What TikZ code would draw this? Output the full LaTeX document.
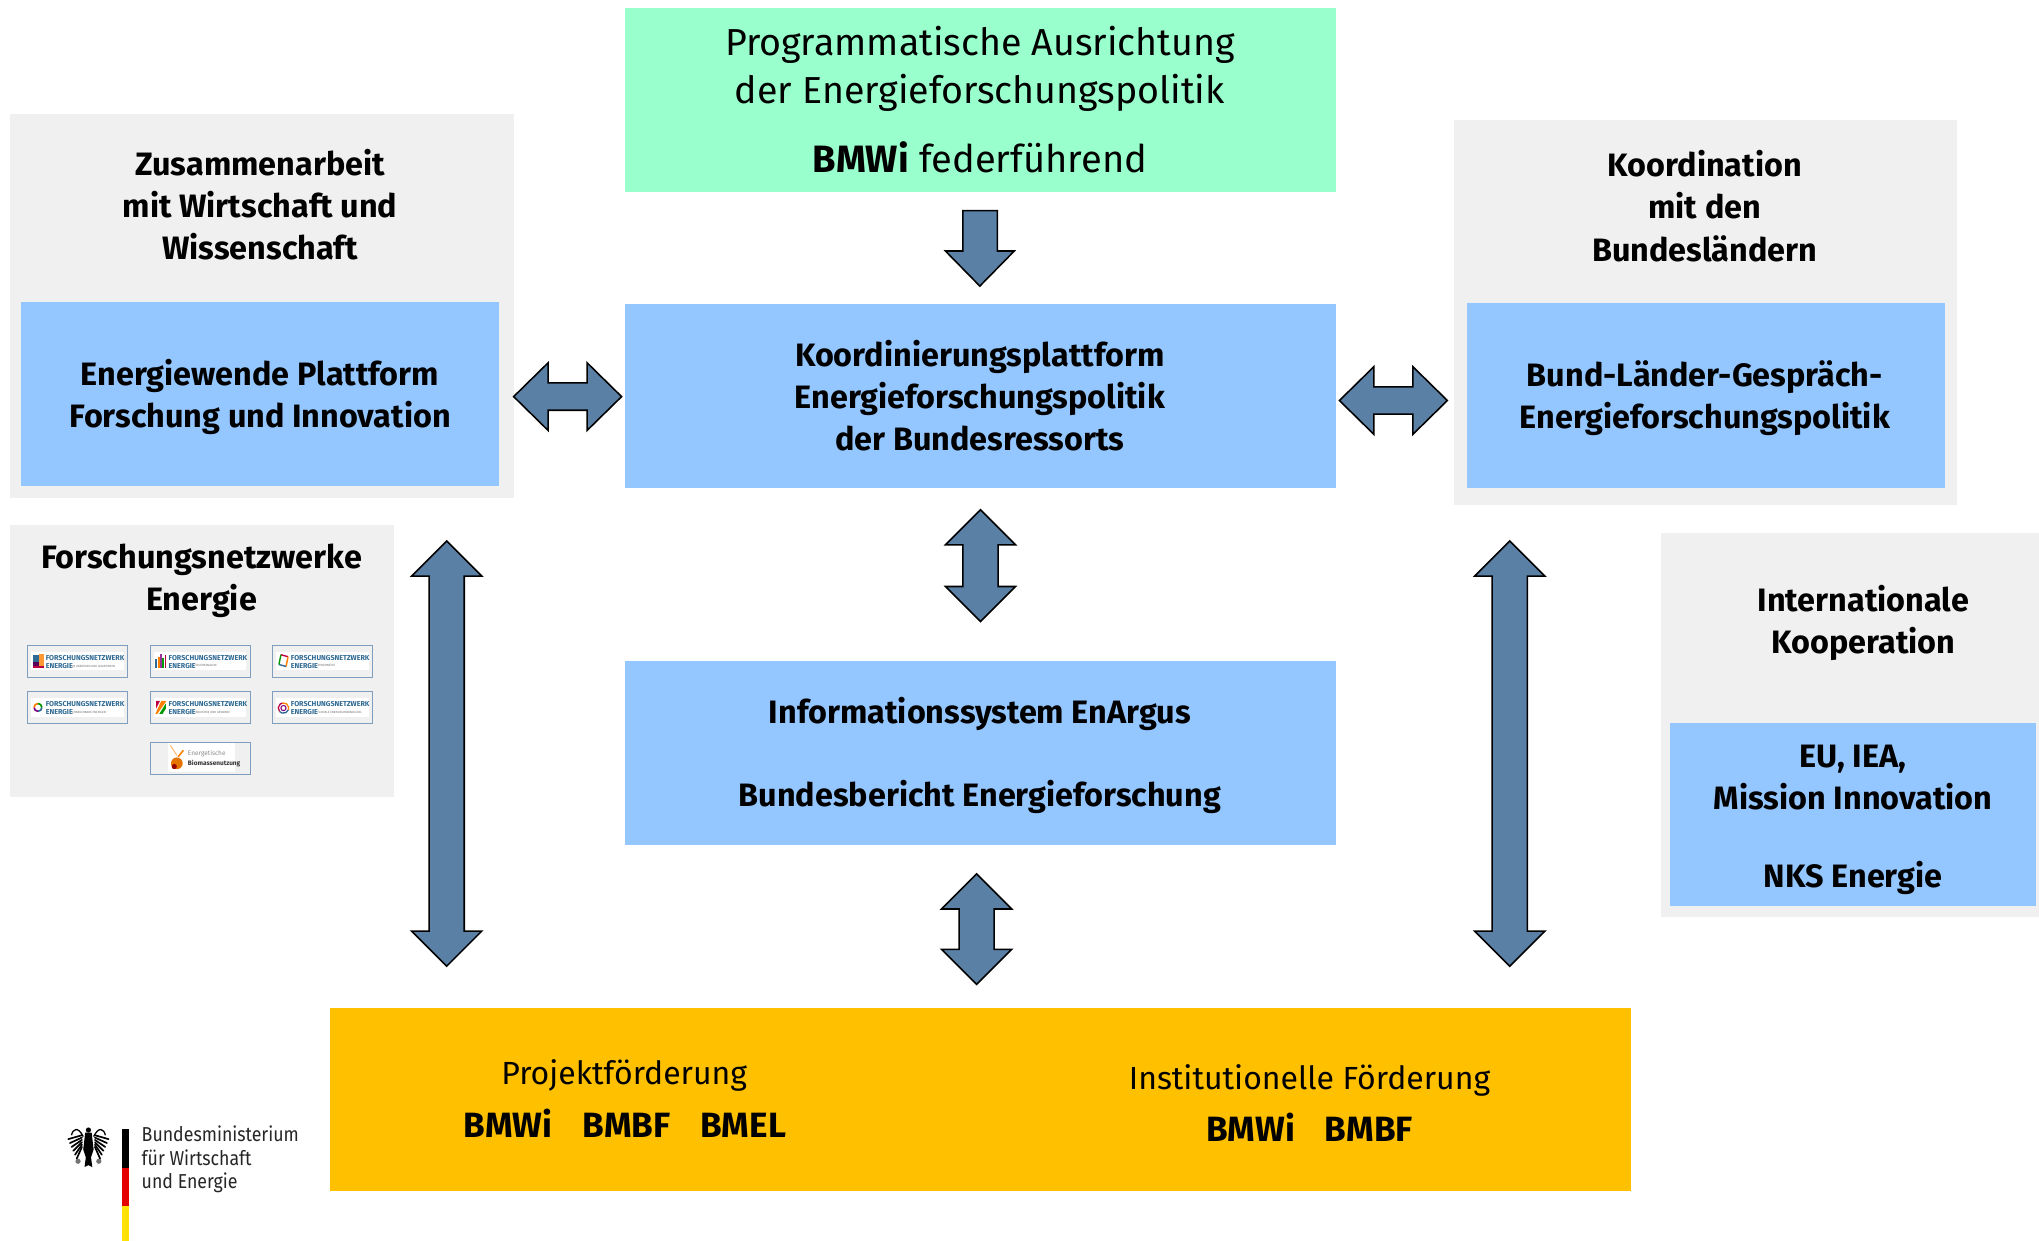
\documentclass[tikz,border=0pt]{standalone}
\usepackage{fontspec}
\setmainfont{Fira Sans}
\newfontfamily\logofont[FakeStretch=0.88]{Fira Sans}
\definecolor{gbox}{HTML}{F0F0F0}
\definecolor{bbox}{HTML}{94C7FF}
\definecolor{mint}{HTML}{99FFCC}
\definecolor{amber}{HTML}{FFC000}
\definecolor{steel}{HTML}{5A80A6}
\definecolor{fnblue}{HTML}{2F6A94}
\definecolor{tileedge}{HTML}{7F9DBC}
\newcommand{\UDarrow}[4]{% x, top, bottom, half-head
  \draw[blockarrow] (#1,#2) -- (#1+#4,#2+27) -- (#1+13.5,#2+27) -- (#1+13.5,#3-27) -- (#1+#4,#3-27) -- (#1,#3) -- (#1-#4,#3-27) -- (#1-13.5,#3-27) -- (#1-13.5,#2+27) -- (#1-#4,#2+27) -- cycle;}
\newcommand{\LRarrow}[3]{% y, left, right
  \draw[blockarrow] (#2,#1) -- (#2+26.5,#1-26) -- (#2+26.5,#1-10.5) -- (#3-26.5,#1-10.5) -- (#3-26.5,#1-26) -- (#3,#1) -- (#3-26.5,#1+26) -- (#3-26.5,#1+10.5) -- (#2+26.5,#1+10.5) -- (#2+26.5,#1+26) -- cycle;}
\newcommand{\FNtile}[4]{% name, x, y, subtitle
  \node[tile] (#1) at (#2,#3) {};
  \fill[white] (#2-35.5,#3-7) rectangle (#2+35.5,#3+7);
  \node[fntext] (#1a) at (#2-24.5,#3-2.8) {FORSCHUNGSNETZWERK};
  \node[fntext] (#1b) at (#2-24.5,#3+3.3) {ENERGIE};
  \node[fnsub] (#1c) at (#2-4,#3+3.6) {#4};}
\tikzset{
  box/.style={inner sep=0pt,outer sep=0pt,align=center,text=black,font=\fontsize{24.9}{32.4}\selectfont\bfseries},
  graybox/.style={fill=gbox,draw=none},
  bluebox/.style={box,fill=bbox},
  title/.style={box,fill=none},
  plain/.style={inner sep=0pt,outer sep=0pt,align=center,text=black},
  blockarrow/.style={fill=steel,draw=black,line width=1.2pt,line join=miter},
  tile/.style={draw=tileedge,line width=.8pt,fill=gbox,minimum width=77pt,minimum height=24.5pt,inner sep=0pt},
  fntext/.style={anchor=west,inner sep=0pt,align=left,text=fnblue,font=\fontsize{5.5}{6}\selectfont\bfseries},
  fnsub/.style={anchor=west,inner sep=0pt,text=black!55,font=\fontsize{2.3}{3}\selectfont},
}
\begin{document}
\begin{tikzpicture}[x=1pt,y=-1pt]
\useasboundingbox (0,0) rectangle (1568,954.3);
\fill[white] (0,0) rectangle (1568,954.3);
% gray panels
\fill[graybox] (8,88) rectangle (395,383);
\fill[graybox] (1118,92) rectangle (1505,388);
\fill[graybox] (8,404) rectangle (303,613);
\fill[graybox] (1277,410) rectangle (1568,705);
% top
\fill[mint] (481,6) rectangle (1027,148);
\node[plain,font=\fontsize{28.9}{37.5}\selectfont] (prog) at (753.5,53) {Programmatische Ausrichtung\\der Energieforschungspolitik};
\node[plain,font=\fontsize{29.3}{38}\selectfont] (bmwi) at (753.5,121) {\textbf{BMWi} federführend};
% blue boxes
\fill[bbox] (481,234) rectangle (1027,375);
\node[box] (koord) at (753.5,304) {Koordinierungsplattform\\Energieforschungspolitik\\der Bundesressorts};
\fill[bbox] (481,508) rectangle (1027,650);
\node[box] (info) at (753.5,549) {Informationssystem EnArgus};
\node[box] (bericht) at (753.5,613) {Bundesbericht Energieforschung};
\fill[bbox] (16,232) rectangle (384,374);
\node[box] (plattform) at (200,305) {Energiewende Plattform\\Forschung und Innovation};
\fill[bbox] (1128,233) rectangle (1496,375);
\node[box] (bund) at (1311,306.5) {Bund-Länder-Gespräch-\\Energieforschungspolitik};
\fill[bbox] (1284,556) rectangle (1566,697);
\node[box] (eu) at (1425,598) {EU, IEA,\\Mission Innovation};
\node[box] (nks) at (1425,675) {NKS Energie};
% titles
\node[title] (zus) at (200,157.5) {Zusammenarbeit\\mit Wirtschaft und\\Wissenschaft};
\node[title] (koordt) at (1311,158.5) {Koordination\\mit den\\Bundesländern};
\node[title] (fnt) at (155,446.5) {Forschungsnetzwerke\\Energie};
\node[title] (intl) at (1433,479) {Internationale\\Kooperation};
% orange
\fill[amber] (254,775) rectangle (1254,916);
\node[plain,font=\fontsize{24.6}{32}\selectfont] (pf) at (480,827) {Projektförderung};
\node[box,font=\fontsize{27}{32}\selectfont\bfseries] (pfb) at (480.5,864) {BMWi\hspace{23pt}BMBF\hspace{23pt}BMEL};
\node[plain,font=\fontsize{24.6}{32}\selectfont] (inf) at (1007,830.5) {Institutionelle Förderung};
\node[box,font=\fontsize{27}{32}\selectfont\bfseries] (infb) at (1007,867) {BMWi\hspace{23pt}BMBF};
% arrows
\draw[blockarrow] (740.5,162) -- (767,162) -- (767,193) -- (780,193) -- (753.5,220) -- (727,193) -- (740.5,193) -- cycle;
\LRarrow{305}{395}{478}
\LRarrow{308}{1030}{1113}
\UDarrow{754}{392}{478}{27}
\UDarrow{751}{672}{757}{27}
\UDarrow{343.5}{416}{743}{27}
\UDarrow{1161}{416}{743}{27}
% tiles
\FNtile{t1}{59.5}{508.5}{IN GEBÄUDEN UND QUARTIEREN}
\fill[fnblue] (25.5,504) rectangle (30,509);
\fill[orange!80] (30,503) rectangle (33.5,512);
\fill[violet!70!black] (25.5,509) rectangle (30,514);
\fill[purple] (25.5,512) rectangle (33.5,514);
\FNtile{t2}{154}{508.5}{SYSTEMANALYSE}
\fill[fnblue] (119.5,507) rectangle (121,514);
\fill[orange] (121.2,505) rectangle (122.7,514);
\fill[violet!80] (123,503) rectangle (124.5,514);
\fill[green!60!black] (124.8,506) rectangle (126.3,514);
\fill[purple] (126.6,504) rectangle (128,514);
\FNtile{t3}{248}{508.5}{STROMNETZE}
\draw[purple,line width=1.1pt] (216,503.5) -- (221.5,505);
\draw[orange,line width=1.1pt] (221.5,505) -- (220,512.5);
\draw[fnblue,line width=1.1pt] (220,512.5) -- (214.5,511);
\draw[green!60!black,line width=1.1pt] (214.5,511) -- (216,503.5);
\FNtile{t4}{59.5}{544}{ERNEUERBARE ENERGIEN}
\draw[fnblue,line width=1.3pt] (29.2,544) ++(0:3) arc (0:90:3);
\draw[violet,line width=1.3pt] (29.2,544) ++(90:3) arc (90:180:3);
\draw[orange,line width=1.3pt] (29.2,544) ++(180:3) arc (180:270:3);
\draw[green!60!black,line width=1.3pt] (29.2,544) ++(270:3) arc (270:360:3);
\FNtile{t5}{154}{544}{INDUSTRIE UND GEWERBE}
\fill[purple] (120,539) -- (123,539) -- (120,545) -- cycle;
\fill[orange] (124,539) -- (128,539) -- (121,549) -- (119.5,549) -- cycle;
\fill[green!60!black] (127.5,541) -- (127.5,545) -- (125,549) -- (122.5,549) -- cycle;
\FNtile{t6}{248}{544}{FLEXIBLE ENERGIEUMWANDLUNG}
\draw[fnblue,line width=1pt] (218,544.5) ++(20:4) arc (20:140:4);
\draw[purple,line width=1pt] (218,544.5) ++(140:4) arc (140:260:4);
\draw[orange,line width=1pt] (218,544.5) ++(260:4) arc (260:380:4);
\draw[violet,line width=.8pt] (218,544.5) circle (2pt);
\node[tile] (t7) at (154,583) {};
\fill[white] (129,571) rectangle (181,594);
\fill[orange!90!black] (136,587) circle (4.5pt);
\fill[red!60!black] (134,589.5) circle (2pt);
\draw[orange!50,line width=.9pt] (131,573) -- (136,581);
\draw[orange,line width=1.2pt] (137,582) -- (141,577);
\node[plain,anchor=west,align=left,font=\fontsize{5}{7.2}\selectfont\bfseries,text=black!80] (t7t) at (144.5,583.5) {\textcolor{black!45}{\mdseries Energetische}\\Biomassenutzung};
% logo
\fill[black] (94,868) rectangle (99.5,898);
\fill[red!90!black] (94,898) rectangle (99.5,927.5);
\fill[yellow!85!orange] (94,927.5) rectangle (99.5,954.3);
\node[plain,align=left,anchor=north west,font=\logofont\fontsize{15.5}{18}\selectfont,text=black!85] (bm) at (109,866) {Bundesministerium\\für Wirtschaft\\und Energie};
% eagle
\fill[black] (68,869) circle (2pt);
\fill[black] (65.5,871) -- (70.5,871) -- (72,884) -- (70,890) -- (71,897.5) -- (68,896) -- (65,897.5) -- (66,890) -- (64,884) -- cycle;
\draw[black,line width=1pt] (64,874) .. controls (60,866) and (56,868) .. (55,873);
\draw[black,line width=1pt] (72,874) .. controls (76,866) and (80,868) .. (81,873);
\foreach \i in {0,...,5}{
  \draw[black,line width=1.3pt,line cap=round] (63,{873+1.8*\i}) -- ({52.5+1.3*\i},{876+3.0*\i});
  \draw[black,line width=1.3pt,line cap=round] (73,{873+1.8*\i}) -- ({83.5-1.3*\i},{876+3.0*\i});
}
\fill[black!55] (60,893) circle (2pt) (76,893) circle (2pt);
\end{tikzpicture}
\end{document}
